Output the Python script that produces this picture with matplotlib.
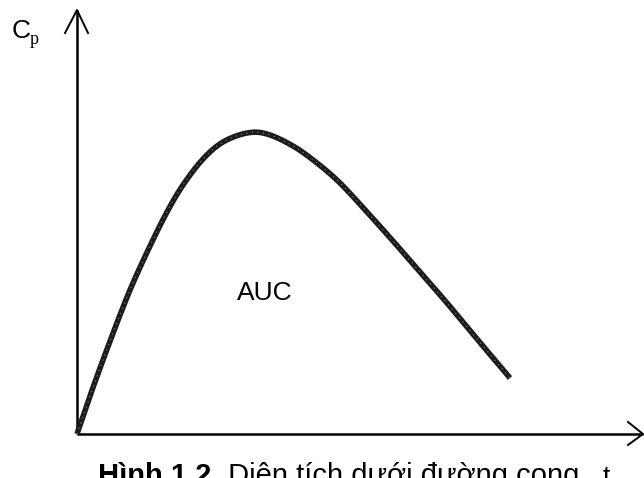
import numpy as np
import matplotlib
matplotlib.use("Agg")
from matplotlib import pyplot as plt

# concentration-time curve, points
t = [0, 13, 26, 43, 56, 73, 90, 106, 126, 146, 170, 190, 216, 240, 263, 290, 316, 343, 370, 400, 433]
cp = [0, 38, 74, 119, 151, 188, 222, 249, 275, 292, 301, 300, 288, 271, 251, 222, 193, 162, 131, 95, 56]

axis_len_x = 566
axis_len_y = 424
area_label = "AUC"
caption_bold = "Hình 1.2."
caption_rest = " Diện tích dưới đường cong"


def smooth(xs, ys, n=20):
    # catmull-rom through the read points so the thick line has no corners
    px = np.array(xs, float)
    py = np.array(ys, float)
    px = np.concatenate([[2 * px[0] - px[1]], px, [2 * px[-1] - px[-2]]])
    py = np.concatenate([[2 * py[0] - py[1]], py, [2 * py[-1] - py[-2]]])
    outx = []
    outy = []
    for i in range(1, len(px) - 2):
        s = np.linspace(0, 1, n, endpoint=False)
        for arr, out in ((px, outx), (py, outy)):
            p0, p1, p2, p3 = arr[i - 1], arr[i], arr[i + 1], arr[i + 2]
            out.extend(0.5 * ((2 * p1) + (-p0 + p2) * s
                              + (2 * p0 - 5 * p1 + 4 * p2 - p3) * s ** 2
                              + (-p0 + 3 * p1 - 3 * p2 + p3) * s ** 3))
    outx.append(xs[-1])
    outy.append(ys[-1])
    return outx, outy


fig = plt.figure(figsize=(6.44, 4.78), dpi=100)
ax = fig.add_axes([0, 0, 1, 1])
ax.set_xlim(-77, 567)
ax.set_ylim(-44, 434)
ax.axis('off')

# axes with open arrow heads
ax.plot([0, 0], [0, axis_len_y], color='black', lw=1.8, solid_capstyle='butt')
ax.plot([0, axis_len_x], [0, 0], color='black', lw=1.8, solid_capstyle='butt')
ax.plot([-12, 0, 11], [axis_len_y - 23, axis_len_y, axis_len_y - 23], color='black', lw=1.4)
ax.plot([axis_len_x - 15, axis_len_x, axis_len_x - 15], [12, 0, -11], color='black', lw=1.4)

sx, sy = smooth(t, cp)
ax.plot(sx, sy, color='#1c1c1c', lw=4.0, solid_capstyle='butt', solid_joinstyle='round')
# speckled print texture along the curve
ax.plot(sx, sy, color='#8a8a8a', lw=0.8, linestyle=(0, (1, 4)))

ax.text(188, 141, area_label, fontsize=19, family='Liberation Sans', ha='center', va='center')

fig.text(12 / 644, 1 - 38 / 478, 'C', fontsize=19, family='Liberation Sans', ha='left', va='baseline')
fig.text(30 / 644, 1 - 44 / 478, 'p', fontsize=13, family='Liberation Serif', ha='left', va='baseline')
fig.text(603 / 644, 1 - 484 / 478, 't', fontsize=19, family='Liberation Sans', ha='left', va='baseline')

cap = fig.text(98 / 644, 1 - 484 / 478, caption_bold, fontsize=21, family='Liberation Sans',
               fontweight='bold', ha='left', va='baseline')
fig.canvas.draw()
bb = cap.get_window_extent()
fig.text(bb.x1 / 644, 1 - 484 / 478, caption_rest, fontsize=21, family='Liberation Sans',
         ha='left', va='baseline')

fig.savefig('out.png', dpi=100)
